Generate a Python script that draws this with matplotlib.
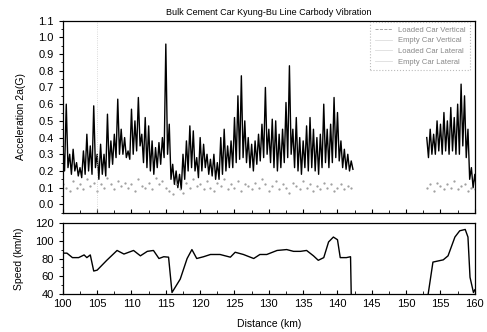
import numpy as np
import matplotlib
matplotlib.use("Agg")
import matplotlib.pyplot as plt
from matplotlib.lines import Line2D
from matplotlib.ticker import MultipleLocator

plt.rcParams['font.family'] = ['Liberation Sans', 'DejaVu Sans']

# Acceleration (peak / trough), 0.5 km steps
dist_a = [100.0 + 0.5 * i for i in range(85)]
acc_hi_a = [.35, .60, .30, .33, .25, .22, .32, .42, .35, .59,
            .30, .36, .30, .54, .38, .42, .63, .45, .40, .32,
            .57, .50, .64, .42, .52, .47, .38, .34, .37, .40,
            .96, .48, .24, .20, .18, .30, .38, .47, .44, .28,
            .40, .36, .30, .27, .30, .25, .40, .45, .35, .38,
            .52, .65, .77, .50, .40, .36, .38, .42, .48, .70,
            .45, .51, .50, .42, .45, .61, .83, .45, .52, .40,
            .38, .47, .52, .45, .40, .42, .60, .45, .48, .64,
            .55, .38, .33, .30, .26]
acc_lo_a = [.20, .22, .18, .20, .17, .16, .18, .20, .18, .22,
            .15, .18, .17, .22, .24, .28, .30, .30, .28, .27,
            .30, .32, .35, .25, .22, .20, .18, .22, .24, .28,
            .30, .15, .12, .10, .09, .15, .20, .22, .20, .16,
            .20, .22, .18, .17, .15, .15, .18, .20, .22, .22,
            .25, .27, .28, .25, .22, .20, .24, .26, .28, .30,
            .25, .22, .20, .22, .25, .28, .30, .22, .20, .18,
            .22, .20, .22, .20, .18, .22, .25, .22, .25, .28,
            .26, .22, .21, .20, .21]
lat_a = [.12, .10, .08, .14, .10, .12, .09, .15, .11, .13,
         .08, .12, .10, .16, .12, .09, .14, .11, .13, .10,
         .12, .08, .15, .11, .10, .13, .09, .16, .12, .14,
         .10, .08, .06, .12, .09, .07, .13, .10, .15, .11,
         .12, .09, .14, .10, .08, .13, .11, .15, .09, .12,
         .10, .14, .08, .12, .11, .09, .13, .10, .15, .12,
         .08, .11, .14, .09, .12, .10, .07, .13, .11, .09,
         .14, .10, .12, .08, .11, .09, .13, .10, .12, .08,
         .10, .12, .09, .11, .10]

dist_b = [153.0 + 0.5 * i for i in range(15)]
acc_hi_b = [.40, .45, .42, .50, .48, .55, .50, .58, .52, .60, .72, .65, .45, .22, .18]
acc_lo_b = [.28, .30, .30, .32, .30, .32, .30, .32, .30, .30, .35, .28, .15, .10, .08]
lat_b = [.10, .12, .08, .13, .11, .09, .12, .10, .14, .09, .11, .12, .08, .10, .09]

# Speed profile
speed_x = [100.0, 100.6, 101.4, 102.3, 103.1, 103.5, 104.0, 104.5, 105.0, 106.4,
           107.9, 108.9, 110.3, 111.3, 112.3, 113.2, 114.0, 114.7, 115.4, 115.9,
           117.1, 118.1, 118.8, 119.5, 120.5, 121.5, 122.9, 124.4, 125.1, 126.3,
           127.8, 128.7, 129.7, 131.2, 132.6, 133.6, 134.6, 135.5, 136.5, 137.2,
           138.0, 138.7, 139.4, 140.0, 140.4, 141.3, 141.9, 142.0, 142.01,
           153.19, 153.2, 153.9, 155.4, 156.1, 157.1, 157.8, 158.6, 159.0, 159.3,
           159.8, 160.0]
speed_y = [86, 86, 81, 81, 84, 81, 84, 66, 67, 78,
           89, 85, 89, 83, 88, 89, 80, 82, 81.5, 42,
           57, 80, 90, 80, 82, 84.5, 84.5, 81.5, 87, 84.5,
           80, 84.5, 84.5, 89, 90, 88, 88, 89, 83, 78,
           81, 98.5, 104, 101, 81, 81, 82, 40, np.nan,
           np.nan, 40, 76, 78.5, 83, 104, 111, 112.5, 104, 59,
           42, 45]


def zigzag(xs, hi, lo):
    x = np.ravel(np.column_stack([xs, np.asarray(xs) + 0.25]))
    y = np.ravel(np.column_stack([hi, lo]))
    return x, y


fig = plt.figure(figsize=(4.87, 3.32), dpi=100)
ax1 = fig.add_axes([0.129, 0.3593, 0.846, 0.5784])
ax2 = fig.add_axes([0.129, 0.1136, 0.846, 0.2155])

for xs, hi, lo, lat in [(dist_a, acc_hi_a, acc_lo_a, lat_a), (dist_b, acc_hi_b, acc_lo_b, lat_b)]:
    zx, zy = zigzag(xs, hi, lo)
    ax1.plot(zx, zy, color='black', lw=1.0)
    ax1.plot(xs, lat, ls='none', marker='.', ms=1.2, color='#999999')

ax1.axvline(105, color='#cccccc', lw=0.6, ls=':')
ax1.set_xlim(100, 160)
ax1.set_ylim(-0.05, 1.1)
ax1.yaxis.set_major_locator(MultipleLocator(0.1))
ax1.yaxis.set_minor_locator(MultipleLocator(0.05))
ax1.xaxis.set_major_locator(MultipleLocator(5))
ax1.xaxis.set_minor_locator(MultipleLocator(2.5))
ax1.tick_params(axis='x', which='both', direction='in', labelbottom=False, length=3)
ax1.tick_params(axis='x', which='minor', length=2)
ax1.tick_params(axis='y', which='major', direction='out', length=3, labelsize=8)
ax1.tick_params(axis='y', which='minor', direction='out', length=1.5)
ax1.set_ylabel('Acceleration 2a(G)', fontsize=7.5, labelpad=9)
ax1.set_title('Bulk Cement Car Kyung-Bu Line Carbody Vibration', fontsize=6.5, pad=4)

handles = [Line2D([], [], color='#999999', ls='--', lw=0.6),
           Line2D([], [], color='#dddddd', lw=0.6),
           Line2D([], [], color='#dddddd', lw=0.6),
           Line2D([], [], color='#dddddd', lw=0.6)]
labels = ['Loaded Car Vertical', 'Empty Car Vertical', 'Loaded Car Lateral', 'Empty Car Lateral']
leg = ax1.legend(handles, labels, loc='upper right', bbox_to_anchor=(0.998, 1.015),
                 fontsize=5.5, labelcolor='#888888', handlelength=2.2, labelspacing=0.45,
                 fancybox=False, borderpad=0.6)
leg.get_frame().set_edgecolor('#aaaaaa')
leg.get_frame().set_linestyle(':')
leg.get_frame().set_linewidth(0.8)

ax2.plot(speed_x, speed_y, color='black', lw=1.0)
ax2.set_xlim(100, 160)
ax2.set_ylim(40, 120)
ax2.yaxis.set_major_locator(MultipleLocator(20))
ax2.yaxis.set_minor_locator(MultipleLocator(10))
ax2.xaxis.set_major_locator(MultipleLocator(5))
ax2.xaxis.set_minor_locator(MultipleLocator(2.5))
ax2.tick_params(axis='x', which='major', direction='in', length=3, labelsize=8)
ax2.tick_params(axis='x', which='minor', direction='in', length=2)
ax2.tick_params(axis='y', which='major', direction='out', length=3, labelsize=8)
ax2.tick_params(axis='y', which='minor', direction='out', length=1.5)
ax2.set_ylabel('Speed (km/h)', fontsize=7.5, labelpad=8)
ax2.set_xlabel('Distance (km)', fontsize=7.5, labelpad=7)

for ax in (ax1, ax2):
    for s in ax.spines.values():
        s.set_linewidth(0.9)

fig.savefig('out.png', dpi=100)
